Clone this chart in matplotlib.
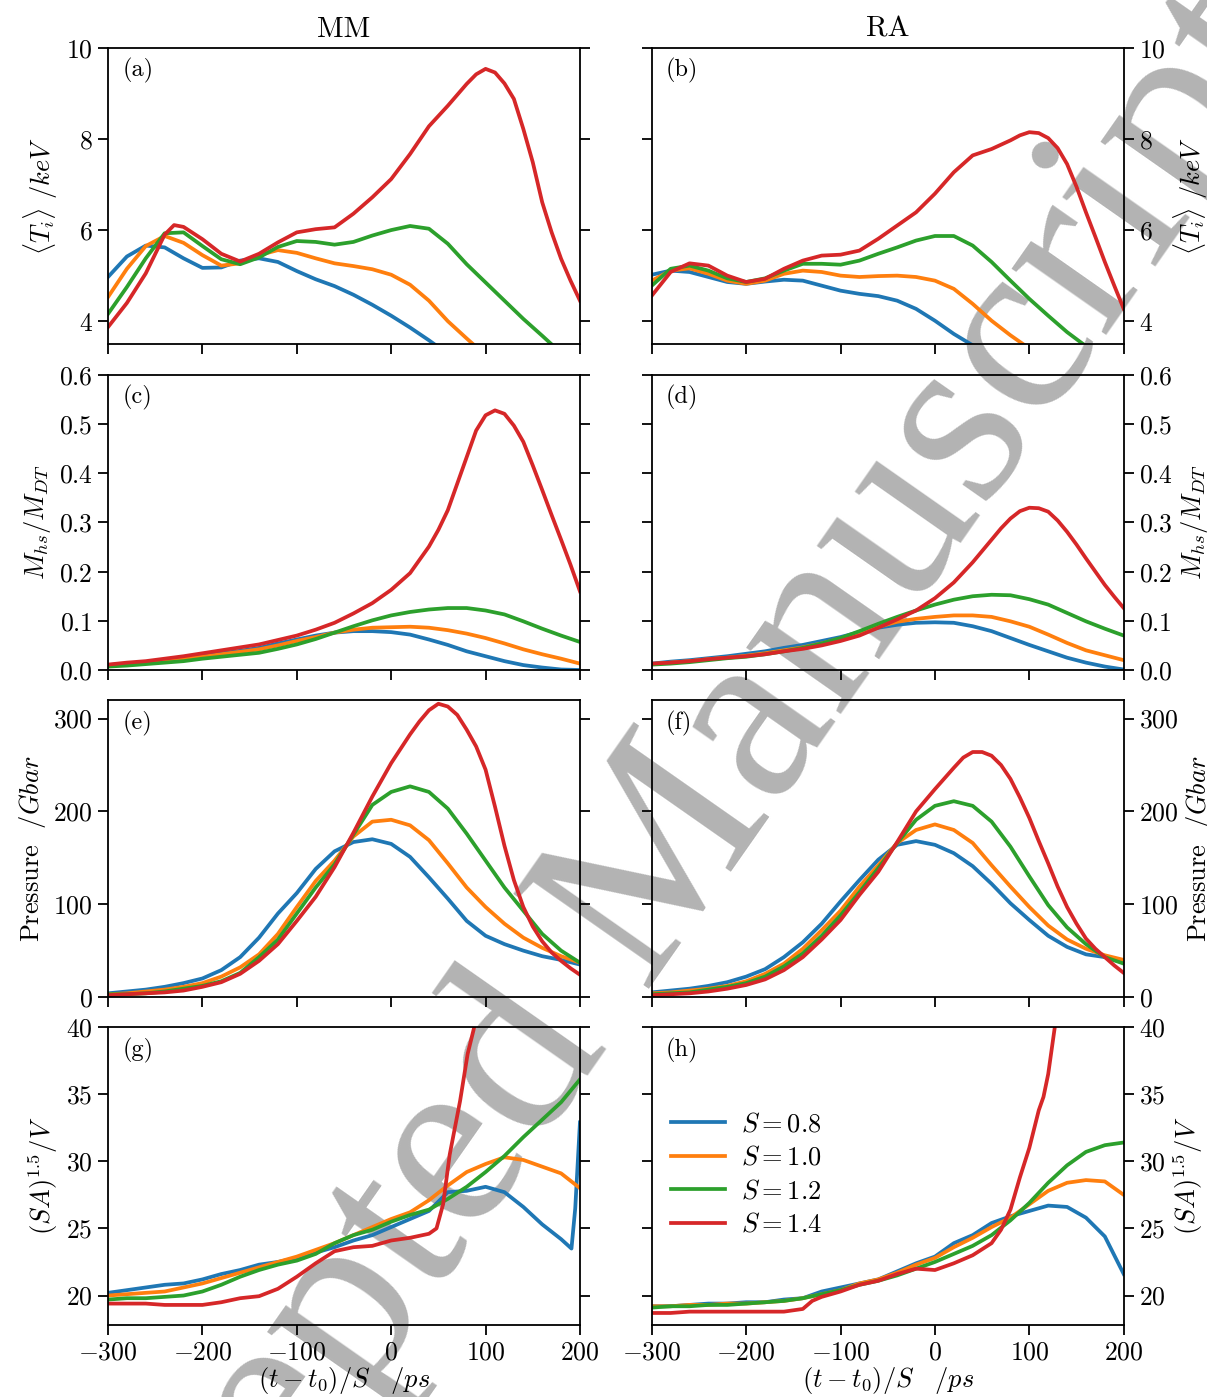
import numpy as np
import matplotlib
matplotlib.use("Agg")
import matplotlib.pyplot as plt

plt.rcParams['font.family'] = 'serif'
plt.rcParams['font.serif'] = ['cmr10']
plt.rcParams['mathtext.fontset'] = 'cm'
plt.rcParams['axes.formatter.use_mathtext'] = True
plt.rcParams['axes.unicode_minus'] = True

# time grid, (t - t0)/S in ps
t = np.arange(-300, 201, 20)
nan = np.nan

labels = [r'$S=0.8$', r'$S=1.0$', r'$S=1.2$', r'$S=1.4$']
colors = ['#1f77b4', '#ff7f0e', '#2ca02c', '#d62728']

# (a) MM  <Ti> / keV
ti_mm_08 = [4.97, 5.42, 5.66, 5.62, 5.38, 5.17, 5.18, 5.33, 5.38, 5.30, 5.10, 4.92, 4.77,
            4.58, 4.36, 4.12, 3.86, 3.58, 3.28, nan, nan, nan, nan, nan, nan, nan]
ti_mm_10 = [4.53, 5.15, 5.65, 5.87, 5.72, 5.45, 5.22, 5.27, 5.45, 5.56, 5.50, 5.38, 5.27,
            5.21, 5.14, 5.02, 4.80, 4.45, 4.00, 3.62, 3.25, nan, nan, nan, nan, nan]
ti_mm_12 = [4.16, 4.75, 5.38, 5.93, 5.95, 5.65, 5.36, 5.25, 5.40, 5.63, 5.76, 5.74, 5.68,
            5.74, 5.88, 6.00, 6.09, 6.03, 5.70, 5.25, 4.85, 4.45, 4.05, 3.68, 3.30, nan]
ti_mm_14_t = [-300, -280, -260, -240, -230, -220, -200, -180, -160, -140, -120, -100, -80,
              -60, -40, -20, 0, 20, 40, 60, 80, 90, 100, 110, 120, 130, 140, 150, 160,
              170, 180, 190, 200]
ti_mm_14 = [3.87, 4.40, 5.05, 5.90, 6.11, 6.07, 5.80, 5.48, 5.31, 5.48, 5.73, 5.95, 6.02,
            6.06, 6.36, 6.72, 7.12, 7.67, 8.28, 8.73, 9.21, 9.42, 9.54, 9.46, 9.22, 8.88,
            8.22, 7.49, 6.61, 5.95, 5.37, 4.89, 4.45]

# (b) RA  <Ti> / keV
ti_ra_08 = [5.02, 5.11, 5.08, 4.97, 4.86, 4.82, 4.87, 4.91, 4.89, 4.78, 4.67, 4.60, 4.55,
            4.45, 4.27, 4.01, 3.72, 3.47, nan, nan, nan, nan, nan, nan, nan, nan]
ti_ra_10 = [4.89, 5.11, 5.16, 5.04, 4.89, 4.82, 4.89, 5.04, 5.11, 5.08, 5.00, 4.97, 4.99,
            5.00, 4.97, 4.89, 4.71, 4.38, 4.01, 3.69, 3.40, nan, nan, nan, nan, nan]
ti_ra_12 = [4.78, 5.15, 5.22, 5.11, 4.94, 4.86, 4.94, 5.11, 5.26, 5.26, 5.24, 5.33, 5.48,
            5.62, 5.77, 5.87, 5.87, 5.66, 5.30, 4.89, 4.49, 4.12, 3.76, 3.45, nan, nan]
ti_ra_14_t = list(range(-300, 81, 20)) + [90, 100, 110, 120, 130, 140, 150, 160, 170,
                                          180, 190, 200]
ti_ra_14 = [4.56, 5.08, 5.27, 5.22, 5.00, 4.86, 4.93, 5.15, 5.33, 5.44, 5.46, 5.55, 5.81,
            6.10, 6.39, 6.80, 7.27, 7.64, 7.78, 7.97, 8.08, 8.15, 8.13, 8.02, 7.80, 7.45,
            6.95, 6.39, 5.85, 5.30, 4.78, 4.27]

# (c) MM  M_hs / M_DT
m_mm_08 = [.010, .013, .016, .019, .024, .028, .034, .039, .045, .054, .062, .070, .076,
           .079, .079, .077, .072, .062, .051, .038, .028, .018, .010, .005, .001, .000]
m_mm_10 = [.009, .012, .015, .018, .023, .027, .032, .037, .042, .050, .059, .067, .076,
           .082, .086, .087, .088, .086, .081, .074, .065, .054, .042, .032, .023, .013]
m_mm_12 = [.007, .009, .012, .015, .018, .023, .027, .031, .035, .043, .052, .063, .076,
           .089, .101, .111, .118, .123, .126, .126, .121, .113, .099, .084, .070, .057]
m_mm_14_t = list(range(-300, 41, 20)) + list(range(50, 201, 10))
m_mm_14 = [.011, .015, .018, .023, .028, .034, .040, .046, .052, .061, .070, .082, .096,
           .115, .136, .163, .197, .251, .285, .325, .379, .433, .487, .518, .528, .521,
           .497, .464, .416, .366, .315, .265, .214, .160]

# (d) RA  M_hs / M_DT
m_ra_08 = [.013, .017, .020, .024, .028, .033, .038, .045, .051, .059, .067, .077, .086,
           .092, .096, .097, .096, .089, .079, .065, .051, .038, .025, .015, .007, .001]
m_ra_10 = [.012, .015, .018, .022, .025, .029, .034, .040, .046, .054, .064, .076, .088,
           .098, .104, .108, .111, .111, .108, .099, .088, .072, .055, .040, .030, .020]
m_ra_12 = [.011, .013, .016, .020, .024, .027, .032, .038, .045, .054, .065, .079, .094,
           .108, .121, .133, .143, .150, .153, .152, .144, .133, .116, .099, .084, .070]
m_ra_14_t = list(range(-300, 61, 20)) + list(range(70, 201, 10))
m_ra_14 = [.013, .015, .018, .022, .025, .028, .032, .038, .043, .050, .059, .070, .086,
           .103, .121, .146, .178, .219, .265, .288, .308, .323, .330, .329, .322, .304,
           .281, .255, .227, .200, .173, .149, .126]

# (e) MM  Pressure / Gbar
p_mm_08 = [4, 6, 8, 11, 15, 20, 29, 43, 64, 90, 112, 138, 157, 167, 170, 165, 151, 129,
           106, 82, 66, 57, 50, 44, 40, 35]
p_mm_10 = [3, 4, 6, 8, 11, 15, 22, 32, 46, 68, 97, 125, 147, 173, 189, 191, 185, 169,
           144, 118, 97, 79, 64, 53, 44, 37]
p_mm_12 = [3, 3, 4, 6, 9, 12, 17, 26, 43, 62, 90, 118, 143, 175, 207, 221, 227, 221,
           203, 176, 147, 118, 93, 68, 50, 37]
p_mm_14_t = list(range(-300, 21, 20)) + list(range(30, 201, 10))
p_mm_14 = [2, 3, 4, 5, 7, 11, 16, 25, 39, 57, 82, 108, 140, 177, 216, 252, 283, 297, 309,
           316, 313, 304, 288, 270, 245, 205, 163, 126, 97, 76, 60, 48, 39, 31, 24]

# (f) RA  Pressure / Gbar
p_ra_08 = [5, 7, 9, 12, 16, 22, 30, 43, 59, 79, 103, 126, 148, 164, 168, 164, 155, 141,
           122, 101, 83, 66, 54, 46, 43, 37]
p_ra_10 = [4, 5, 7, 9, 12, 17, 25, 36, 52, 72, 93, 119, 142, 166, 180, 186, 180, 166,
           142, 119, 97, 77, 62, 52, 45, 40]
p_ra_12 = [3, 4, 5, 8, 11, 15, 22, 33, 47, 66, 88, 113, 139, 166, 191, 206, 211, 206,
           189, 162, 130, 99, 75, 57, 43, 36]
p_ra_14_t = list(range(-300, 21, 20)) + list(range(30, 201, 10))
p_ra_14 = [2, 3, 4, 6, 9, 13, 19, 29, 43, 62, 83, 110, 135, 167, 200, 224, 247, 258, 264,
           264, 260, 250, 235, 215, 193, 168, 144, 119, 97, 79, 63, 52, 43, 34, 26]

# (g) MM  (SA)^1.5 / V
sa_mm_08_t = list(range(-300, 181, 20)) + [191, 195, 200]
sa_mm_08 = [20.2, 20.4, 20.6, 20.8, 20.9, 21.2, 21.6, 21.9, 22.3, 22.5, 22.8, 23.2, 23.6,
            24.1, 24.5, 25.1, 25.7, 26.3, 27.7, 27.8, 28.1, 27.7, 26.6, 25.3, 24.2,
            23.5, 26.5, 32.9]
sa_mm_10 = [20.0, 20.1, 20.2, 20.3, 20.6, 20.9, 21.3, 21.7, 22.1, 22.5, 22.9, 23.4, 23.9,
            24.5, 25.1, 25.7, 26.2, 27.1, 28.2, 29.2, 29.8, 30.3, 30.1, 29.6, 29.1, 28.0]
sa_mm_12 = [19.7, 19.8, 19.8, 19.9, 20.0, 20.3, 20.8, 21.4, 21.9, 22.3, 22.6, 23.1, 23.9,
            24.5, 24.9, 25.5, 26.0, 26.4, 27.2, 28.1, 29.2, 30.4, 31.8, 33.1, 34.4, 36.1]
sa_mm_14_t = list(range(-300, 41, 20)) + [48, 55, 62, 73, 81, 88, 92]
sa_mm_14 = [19.4, 19.4, 19.4, 19.3, 19.3, 19.3, 19.5, 19.8, 19.95, 20.5, 21.4, 22.4, 23.3,
            23.6, 23.7, 24.1, 24.3, 24.6, 25.0, 26.8, 30.5, 34.5, 38.0, 40.0, 41.4]

# (h) RA  (SA)^1.5 / V
sa_ra_08 = [19.2, 19.2, 19.3, 19.4, 19.4, 19.5, 19.5, 19.7, 19.8, 20.3, 20.6, 20.9, 21.2,
            21.8, 22.4, 22.9, 23.9, 24.5, 25.4, 25.9, 26.3, 26.7, 26.6, 25.8, 24.4, 21.6]
sa_ra_10 = [19.2, 19.2, 19.3, 19.3, 19.4, 19.4, 19.5, 19.6, 19.8, 20.1, 20.4, 20.9, 21.2,
            21.7, 22.3, 22.8, 23.6, 24.3, 25.1, 25.8, 26.8, 27.8, 28.4, 28.6, 28.5, 27.5]
sa_ra_12 = [19.1, 19.2, 19.2, 19.3, 19.3, 19.4, 19.5, 19.6, 19.8, 20.1, 20.4, 20.8, 21.1,
            21.5, 22.0, 22.5, 23.1, 23.7, 24.5, 25.6, 26.9, 28.4, 29.7, 30.7, 31.2, 31.4]
sa_ra_14_t = list(range(-300, -139, 20)) + [-130] + list(range(-120, 61, 20)) + \
    [70, 80, 90, 100, 110, 115, 120, 127, 132]
sa_ra_14 = [18.7, 18.7, 18.8, 18.8, 18.8, 18.8, 18.8, 18.8, 19.0, 19.6, 19.9, 20.3, 20.8,
            21.1, 21.6, 22.0, 21.9, 22.4, 23.0, 23.9, 24.9, 26.4, 28.8, 31.0, 33.8, 34.8,
            36.5, 40.0, 41.9]

panels = [
    [(t, ti_mm_08), (t, ti_mm_10), (t, ti_mm_12), (ti_mm_14_t, ti_mm_14)],
    [(t, ti_ra_08), (t, ti_ra_10), (t, ti_ra_12), (ti_ra_14_t, ti_ra_14)],
    [(t, m_mm_08), (t, m_mm_10), (t, m_mm_12), (m_mm_14_t, m_mm_14)],
    [(t, m_ra_08), (t, m_ra_10), (t, m_ra_12), (m_ra_14_t, m_ra_14)],
    [(t, p_mm_08), (t, p_mm_10), (t, p_mm_12), (p_mm_14_t, p_mm_14)],
    [(t, p_ra_08), (t, p_ra_10), (t, p_ra_12), (p_ra_14_t, p_ra_14)],
    [(sa_mm_08_t, sa_mm_08), (t, sa_mm_10), (t, sa_mm_12), (sa_mm_14_t, sa_mm_14)],
    [(t, sa_ra_08), (t, sa_ra_10), (t, sa_ra_12), (sa_ra_14_t, sa_ra_14)],
]

ylabels = [r'$\langle T_i\rangle\ /keV$', r'$M_{hs}/M_{DT}$',
           r'Pressure $\ /Gbar$', r'$(SA)^{1.5}/V$']
ylims = [(3.5, 10), (0, 0.6), (0, 320), (17.8, 40)]
yticks = [[4, 6, 8, 10], [0, 0.1, 0.2, 0.3, 0.4, 0.5, 0.6], [0, 100, 200, 300],
          [20, 25, 30, 35, 40]]
letters = 'abcdefgh'

fig = plt.figure(figsize=(12.07, 13.97), dpi=100)
lefts = [0.0895, 0.540]
bottoms = [0.7538, 0.5204, 0.2863, 0.0515]
heights = [0.2119, 0.2112, 0.2126, 0.2133]

# watermark, drawn behind the (transparent) axes
fig.text(0.525, 0.352, 'Accepted Manuscript', rotation=55, ha='center', va='center',
         rotation_mode='anchor', fontsize=182, family='Liberation Serif',
         color='#b3b3b3', zorder=-5)

axes = []
for row in range(4):
    for col in range(2):
        k = row * 2 + col
        ax = fig.add_axes([lefts[col], bottoms[row], 0.391, heights[row]])
        ax.set_facecolor('none')
        for i, (tx, vals) in enumerate(panels[k]):
            ax.plot(tx, vals, color=colors[i], lw=2.7, label=labels[i])
        ax.set_xlim(-300, 200)
        ax.set_xticks([-300, -200, -100, 0, 100, 200])
        ax.set_ylim(*ylims[row])
        ax.set_yticks(yticks[row])
        for s in ax.spines.values():
            s.set_linewidth(1.3)
        ax.tick_params(direction='out', length=7, width=1.3, labelsize=18.5, pad=4,
                       left=True, right=True, top=False, bottom=True)
        if col == 1:
            ax.tick_params(labelleft=False, labelright=True)
            ax.yaxis.set_label_position('right')
        ax.set_ylabel(ylabels[row], fontsize=19)
        if row < 3:
            ax.tick_params(labelbottom=False)
        else:
            ax.set_xlabel(r'$(t-t_0)/S\quad /ps$', fontsize=19, labelpad=1)
        ax.text(0.03, 0.965, '(' + letters[k] + ')', transform=ax.transAxes,
                va='top', ha='left', fontsize=17.5)
        if row == 0:
            ax.set_title(['MM', 'RA'][col], fontsize=21, pad=8)
        axes.append(ax)

axes[7].legend(loc='center left', bbox_to_anchor=(-0.01, 0.505), frameon=False,
               fontsize=19, handlelength=2.05, handletextpad=0.6, labelspacing=0.36)

fig.savefig('out.png', dpi=100)
